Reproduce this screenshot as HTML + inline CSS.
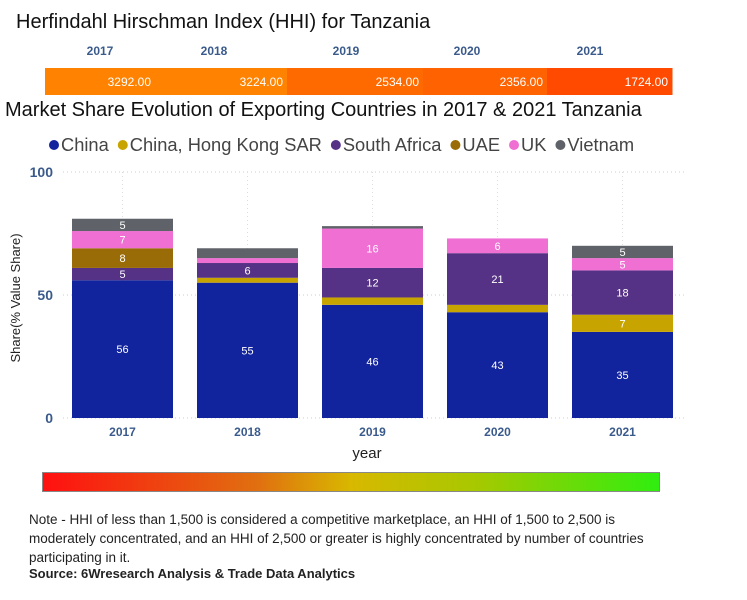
<!DOCTYPE html>
<html><head><meta charset="utf-8"><style>
body{margin:0;width:747px;height:600px;background:#fff;overflow:hidden;font-family:"Liberation Sans",sans-serif;position:relative}
.abs{position:absolute;white-space:nowrap}
</style></head><body>
<div class="abs" style="left:16px;top:11px;font-size:20px;color:#111;transform:scaleX(1.0);transform-origin:left">Herfindahl Hirschman Index (HHI) for Tanzania</div>
<svg id="hhi" width="747" height="100" style="position:absolute;left:0;top:0"></svg>
<div class="abs" style="left:5px;top:99px;font-size:20px;color:#111;transform:scaleX(1.0);transform-origin:left">Market Share Evolution of Exporting Countries in 2017 &amp; 2021 Tanzania</div>
<svg id="chart" width="747" height="470" style="position:absolute;left:0;top:0"></svg>
<div class="abs" style="left:42px;top:472px;width:618px;height:20px;background:linear-gradient(to right,#ff1010,#e07010 35%,#d8b800 50%,#a8c800 70%,#30ee10);border:1px solid #888;box-sizing:border-box"></div>
<div class="abs" style="left:29px;top:510px;font-size:13.5px;line-height:19px;color:#222;white-space:normal;width:625px">Note - HHI of less than 1,500 is considered a competitive marketplace, an HHI of 1,500 to 2,500 is moderately concentrated, and an HHI of 2,500 or greater is highly concentrated by number of countries participating in it.</div>
<div class="abs" style="left:29px;top:566px;font-size:13px;font-weight:bold;color:#222">Source: 6Wresearch Analysis &amp; Trade Data Analytics</div>
<script>
const years=["2017","2018","2019","2020","2021"];
const hhiValues=[3292,3224,2534,2356,1724];
const hhiColors=["#ff8200","#ff8200","#ff6a00","#ff6200","#ff4a00"];
const seriesNames=["China","China, Hong Kong SAR","South Africa","UAE","UK","Vietnam"];
const seriesColors=["#12239e","#c8a400","#553285","#9a6c08","#ef6fd3","#5f6268"];
const china=[56,55,46,43,35];
const hongKong=[0,2,3,3,7];
const southAfrica=[5,6,12,21,18];
const uae=[8,0,0,0,0];
const uk=[7,2,16,6,5];
const vietnam=[5,4,1,0,5];
const yTicks=[0,50,100];
const NS="http://www.w3.org/2000/svg";
function mk(p,t,a,txt){const e=document.createElementNS(NS,t);for(const k in a)e.setAttribute(k,a[k]);if(txt!==undefined)e.textContent=txt;p.appendChild(e);return e;}
const hs=document.getElementById('hhi');
const hb=[45,155,287,423,547,672];
const hLab=[100,214,346,467,590];
years.forEach((y,i)=>{
 const t=mk(hs,'text',{x:hLab[i],y:55,'text-anchor':'middle','font-size':12,'font-weight':'bold',fill:'#3a5a8c'},y);
 
 const r=mk(hs,'rect',{x:hb[i],y:68,width:hb[i+1]-hb[i]+0.5,height:27,fill:hhiColors[i]});
 
 const v=mk(hs,'text',{x:hb[i+1]-4,y:86,'text-anchor':'end','font-size':12,fill:'#fff'},hhiValues[i].toFixed(2));
 
});
const cs=document.getElementById('chart');
const y0=418,y100=172;
const yS=v=>y0-(y0-y100)*v/100;
const left=60,right=685,band=(right-left)/5,bw=101;
const xC=i=>left+band*i+band/2;
let lx=48;
seriesNames.forEach((n,i)=>{
 const g=mk(cs,'g',{});
 mk(g,'circle',{cx:lx+6,cy:145,r:5,fill:seriesColors[i]});
 const t=mk(g,'text',{x:lx+13,y:151,'font-size':18.3,fill:'#444'},n);
 lx+=13+t.getComputedTextLength()+8;
});
yTicks.forEach(v=>{
 const l=mk(cs,'line',{x1:63,x2:685,y1:yS(v),y2:yS(v),stroke:'#ccc','stroke-dasharray':'1 3'});
 
 const t=mk(cs,'text',{x:53,y:yS(v)+5,'text-anchor':'end','font-size':14,'font-weight':'bold',fill:'#3a5a8c'},v);
 
});
years.forEach((y,i)=>{
 const l=mk(cs,'line',{x1:xC(i),x2:xC(i),y1:yS(100),y2:y0,stroke:'#ddd','stroke-dasharray':'1 3'});
 
});
const series=[china,hongKong,southAfrica,uae,uk,vietnam];
years.forEach((y,i)=>{
 let acc=0;
 series.forEach((s,j)=>{
  const v=s[i];if(!v)return;
  const r=mk(cs,'rect',{x:xC(i)-bw/2,y:yS(acc+v),width:bw,height:yS(acc)-yS(acc+v),fill:seriesColors[j]});
  
  if(v>=5){const t=mk(cs,'text',{x:xC(i),y:(yS(acc)+yS(acc+v))/2+4,'text-anchor':'middle','font-size':11,fill:'#fff'},v);
   }
  acc+=v;
 });
 const t=mk(cs,'text',{x:xC(i),y:436,'text-anchor':'middle','font-size':12,'font-weight':'bold',fill:'#3a5a8c'},y);
 
});
const xt=mk(cs,'text',{x:367,y:458,'text-anchor':'middle','font-size':15,fill:'#222'},'year');

const yt=mk(cs,'text',{x:0,y:0,'text-anchor':'middle','font-size':13,fill:'#222',transform:'translate(20,298) rotate(-90)'},'Share(% Value Share)');

</script>
</body></html>
